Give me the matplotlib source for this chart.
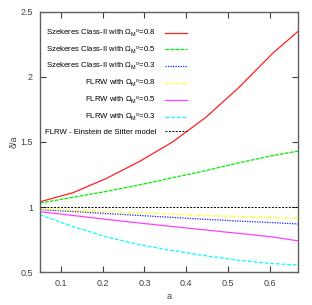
import matplotlib
matplotlib.use("Agg")
import matplotlib.pyplot as plt

# values
a = [0.05, 0.129, 0.209, 0.288, 0.367, 0.447, 0.526, 0.606, 0.667]
szek_08 = [1.04, 1.11, 1.22, 1.35, 1.50, 1.69, 1.92, 2.18, 2.35]
szek_05 = [1.03, 1.075, 1.12, 1.17, 1.225, 1.28, 1.34, 1.395, 1.43]
szek_03 = [0.98, 0.965, 0.95, 0.935, 0.92, 0.905, 0.892, 0.88, 0.87]
flrw_08 = [0.985, 0.975, 0.965, 0.955, 0.945, 0.935, 0.927, 0.918, 0.913]
flrw_05 = [0.964, 0.935, 0.905, 0.877, 0.85, 0.823, 0.797, 0.77, 0.74]
flrw_03 = [0.94, 0.85, 0.77, 0.71, 0.665, 0.625, 0.59, 0.565, 0.555]
eds = [1.0] * len(a)

om = r'$\Omega_M{}^o$'
labels = ["Szekeres Class-II with " + om + "=0.8",
          "Szekeres Class-II with " + om + "=0.5",
          "Szekeres Class-II with " + om + "=0.3",
          "FLRW with " + om + "=0.8",
          "FLRW with " + om + "=0.5",
          "FLRW with " + om + "=0.3",
          "FLRW - Einstein de Sitter model"]

plt.rcParams['font.family'] = ['Liberation Sans Narrow', 'Liberation Sans', 'DejaVu Sans']
plt.rcParams['mathtext.fontset'] = 'custom'
plt.rcParams['mathtext.rm'] = 'Liberation Sans'
plt.rcParams['mathtext.it'] = 'Liberation Sans'

fig = plt.figure(figsize=(3.12, 3.05), dpi=100)
ax = fig.add_axes([0.128, 0.108, 0.827, 0.853])

lw = 0.9
ax.plot(a, szek_08, color='#ff2020', lw=lw, ls='-', label=labels[0])
ax.plot(a, szek_05, color='#00ee00', lw=lw, ls=(0, (3, 1)), label=labels[1])
ax.plot(a, szek_03, color='#2020ff', lw=lw, ls=(0, (1, 1)), label=labels[2])
ax.plot(a, flrw_08, color='#ffff00', lw=lw, ls=(0, (3, 1.5, 1, 1.5)), label=labels[3])
ax.plot(a, flrw_05, color='#ff40ff', lw=lw, ls='-', label=labels[4])
ax.plot(a, flrw_03, color='#00ffff', lw=lw, ls=(0, (3, 1.5)), label=labels[5])
ax.plot(a, eds, color='black', lw=0.7, ls=(0, (2, 1.5)), label=labels[6])

ax.set_xlim(0.05, 0.667)
ax.set_ylim(0.5, 2.5)
ax.set_xticks([0.1, 0.2, 0.3, 0.4, 0.5, 0.6])
ax.set_yticks([0.5, 1, 1.5, 2, 2.5])
ax.set_yticklabels(['0.5', '1', '1.5', '2', '2.5'])
ax.tick_params(direction='in', top=True, right=True, length=4, width=0.8,
               labelsize=6.5, colors='#404040', pad=5)
for s in ax.spines.values():
    s.set_color('#606060')
    s.set_linewidth(1.0)

ax.set_xlabel('a', fontsize=6.5, color='#404040', labelpad=3)
ax.set_ylabel('δ/a', fontsize=6.5, color='#404040', labelpad=1)

ax.legend(loc='upper right', bbox_to_anchor=(0.57, 0.94), frameon=False,
          markerfirst=False, fontsize=5.6, handlelength=2.8, handletextpad=1.2,
          labelspacing=0.72, borderpad=0, borderaxespad=0)

fig.savefig('out.png', dpi=100)
